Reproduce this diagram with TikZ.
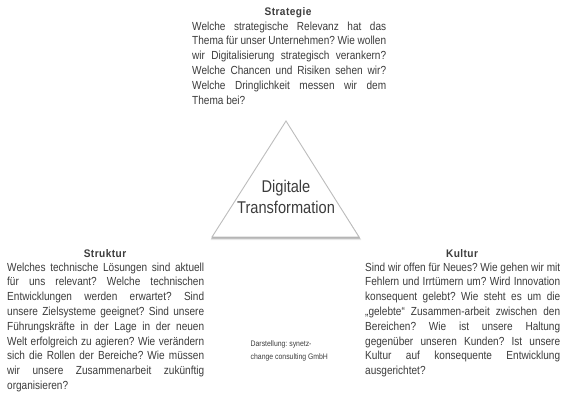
\documentclass[tikz,border=0pt]{standalone}
\usepackage{fontspec}
\newfontfamily\cond{Liberation Sans}[FakeStretch=0.86]
\newfontfamily\condt{Liberation Sans}[FakeStretch=0.92,LetterSpace=4]
\definecolor{txt}{HTML}{3C3C3C}
\definecolor{tri}{HTML}{BDBDBD}
\frenchspacing
\newcommand\jl[1]{\hbox to \hsize{#1}}
\newcommand\lastl[1]{\hbox{#1}}
\newcommand\blk[2]{\vtop{\hsize=#1\relax\cond\fontsize{11.7}{14.8}\selectfont\frenchspacing #2}}
\tikzset{
  body/.style={anchor=base west, inner sep=0pt, text=txt},
  title/.style={anchor=base, inner sep=0pt, text=txt, font=\condt\fontsize{11}{12}\selectfont\bfseries},
}
\begin{document}
\begin{tikzpicture}[x=1pt,y=-1pt]
\path[use as bounding box, fill=white] (0,0) rectangle (569,400);
% triangle with soft shadow
\coordinate (A) at (286,121);
\coordinate (B) at (212,237);
\coordinate (C) at (359,237);
\foreach \o/\op in {3/0.08,2.2/0.12,1.4/0.18}{
  \fill[black,opacity=\op] ([shift={(0.6,\o)}]A) -- ([shift={(-\o*0.5,\o)}]B) -- ([shift={(\o*0.8,\o)}]C) -- cycle;
}
\draw[tri, fill=white, line width=0.9pt] (A) -- (B) -- (C) -- cycle;
\node[inner sep=0pt, text=txt, align=center, font=\cond\fontsize{17}{20.5}\selectfont] (dt) at (286,197) {Digitale\\Transformation};
% Strategie
\node[title] (ts) at (288,15) {Strategie};
\node[body] (bs) at (192,30) {\blk{194pt}{%
\jl{Welche strategische Relevanz hat das}
\jl{Thema für unser Unternehmen? Wie wollen}
\jl{wir Digitalisierung strategisch verankern?}
\jl{Welche Chancen und Risiken sehen wir?}
\jl{Welche Dringlichkeit messen wir dem}
\lastl{Thema bei?}}};
% Struktur
\node[title] (tst) at (105,257) {Struktur};
\node[body] (bst) at (7,271) {\blk{197pt}{%
\jl{Welches technische Lösungen sind aktuell}
\jl{für uns relevant? Welche technischen}
\jl{Entwicklungen werden erwartet? Sind}
\jl{unsere Zielsysteme geeignet? Sind unsere}
\jl{Führungskräfte in der Lage in der neuen}
\jl{Welt erfolgreich zu agieren? Wie verändern}
\jl{sich die Rollen der Bereiche? Wie müssen}
\jl{wir unsere Zusammenarbeit zukünftig}
\lastl{organisieren?}}};
% Kultur
\node[title] (tk) at (462,257) {Kultur};
\node[body] (bk) at (365,271) {\blk{195pt}{%
\jl{Sind wir offen für Neues? Wie gehen wir mit}
\jl{Fehlern und Irrtümern um? Wird Innovation}
\jl{konsequent gelebt? Wie steht es um die}
\jl{„gelebte“ Zusammen-arbeit zwischen den}
\jl{Bereichen? Wie ist unsere Haltung}
\jl{gegenüber unseren Kunden? Ist unsere}
\jl{Kultur auf konsequente Entwicklung}
\lastl{ausgerichtet?}}};
% credit
\node[anchor=base west, inner sep=0pt, text=txt, align=left, font=\cond\fontsize{8}{13.5}\selectfont] (cr) at (250.5,359.5) {Darstellung: synetz-\\change consulting GmbH};
\end{tikzpicture}
\end{document}
